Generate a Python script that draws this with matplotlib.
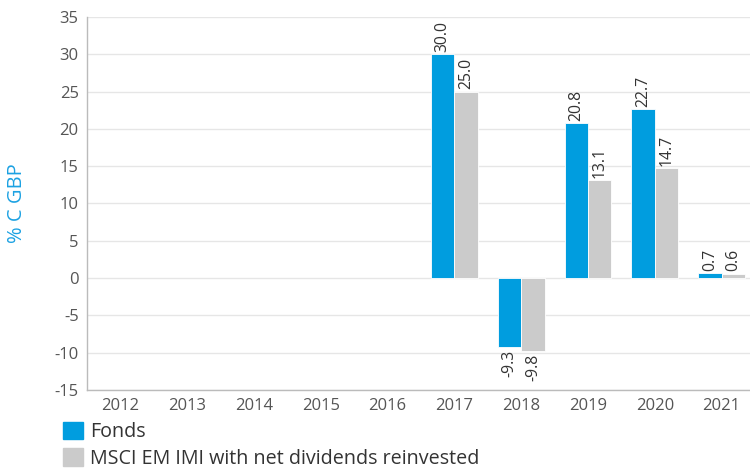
import matplotlib.pyplot as plt
from matplotlib.patches import Patch
import numpy as np

plt.rcParams['font.family'] = ['Open Sans', 'DejaVu Sans']
plt.rcParams['axes.unicode_minus'] = False

years = ['2012', '2013', '2014', '2015', '2016', '2017', '2018', '2019', '2020', '2021']
fonds = [None, None, None, None, None, 30.0, -9.3, 20.8, 22.7, 0.7]
msci = [None, None, None, None, None, 25.0, -9.8, 13.1, 14.7, 0.6]
series_names = ['Fonds', 'MSCI EM IMI with net dividends reinvested']

blue = '#009ddf'
grey = '#cbcbcb'

fig = plt.figure(figsize=(7.5, 4.69), dpi=100)
ax = fig.add_axes([0.116, 0.1684, 0.8907, 0.7954])

x = np.arange(len(years))
w = 0.35
for vals, off, col in [(fonds, -w / 2, blue), (msci, w / 2, grey)]:
    for xi, v in zip(x, vals):
        if v is None:
            continue
        ax.bar(xi + off, v, width=w, color=col, edgecolor='white', linewidth=0.6, zorder=3)
        if v >= 0:
            ax.text(xi + off, v + 0.3, f'{v:.1f}', rotation=90, ha='center', va='bottom',
                    fontsize=11.3, color='#333333')
        else:
            ax.text(xi + off, v - 0.3, f'{v:.1f}', rotation=90, ha='center', va='top',
                    fontsize=11.3, color='#333333')

ax.set_xlim(-0.5, 9.5)
ax.set_ylim(-15, 35)
ax.set_yticks(range(-15, 36, 5))
ax.set_xticks(x)
ax.set_xticklabels(years)
ax.grid(axis='y', color='#e6e6e6', linewidth=1, zorder=0)
ax.tick_params(axis='both', length=0, labelsize=12, colors='#555555', pad=6)
for s in ['top', 'right']:
    ax.spines[s].set_visible(False)
for s in ['left', 'bottom']:
    ax.spines[s].set_color('#bbbbbb')
    ax.spines[s].set_linewidth(1)

ax.set_ylabel('% C GBP', fontsize=14.5, color='#1ba1e2', labelpad=20)

handles = [Patch(color=blue), Patch(color=grey)]
fig.legend(handles, series_names, loc='upper left', bbox_to_anchor=(0.084, 0.101),
           frameon=False, fontsize=14.2, handlelength=1.0, handleheight=1.0,
           handletextpad=0.35, labelspacing=0.3, borderaxespad=0, borderpad=0,
           labelcolor='#333333')

plt.savefig('out.png', dpi=100)
